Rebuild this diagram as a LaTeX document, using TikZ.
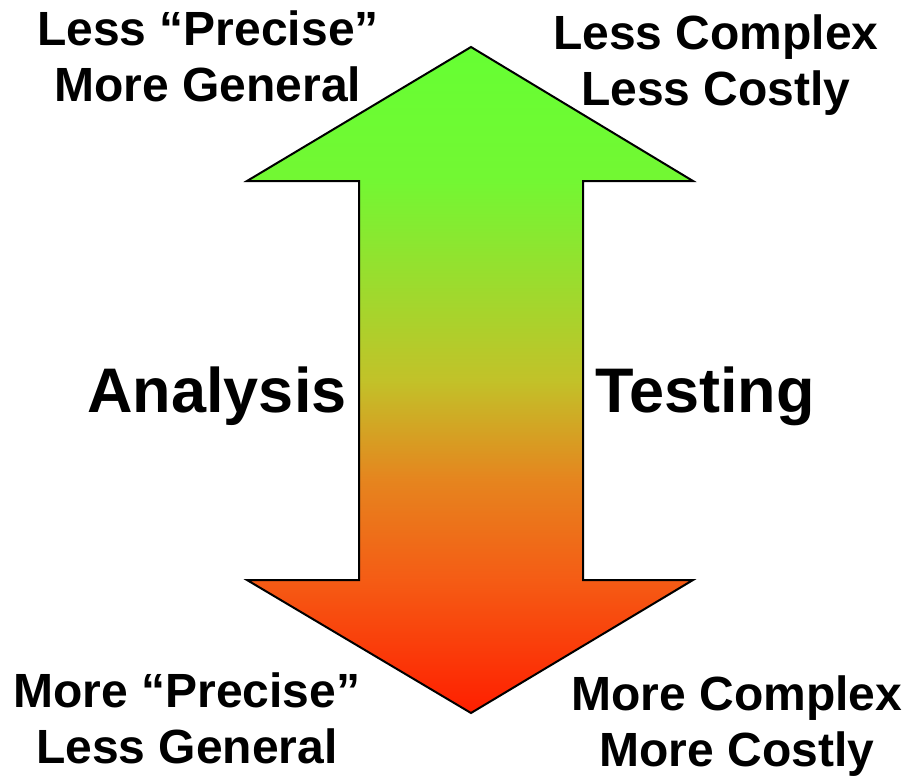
\documentclass[tikz,border=0pt]{standalone}
\usepackage{fontspec}
\setmainfont{Liberation Sans}
\usetikzlibrary{positioning}
\usetikzlibrary{calc}

% green to red, bottom (0bp) to top (100bp), path fills 25bp..75bp
\pgfdeclareverticalshading{greenred}{100bp}{%
    rgb(0bp)=(1,0.12,0); rgb(25bp)=(1,0.12,0);
    rgb(35bp)=(0.96,0.36,0.08);
    rgb(42.5bp)=(0.90,0.52,0.12);
    rgb(50bp)=(0.76,0.76,0.16);
    rgb(65bp)=(0.45,0.97,0.2);
    rgb(75bp)=(0.4,1,0.2); rgb(100bp)=(0.4,1,0.2)}

\begin{document}
\begin{tikzpicture}[x=1pt, y=-1pt,
    %Option for the texts
    inner sep=0pt, outer sep=0pt,%
    corner/.style={font=\bfseries\fontsize{48}{56}\selectfont, align=center},
    side/.style={font=\bfseries\fontsize{63}{70}\selectfont},
    bigarrow/.style={draw=black, line width=2pt, line join=miter, shading=greenred},
]
    \useasboundingbox (0,0) rectangle (908,777);

    % Arrow outline
    \coordinate (tip)  at (471, 47);
    \coordinate (foot) at (471,713);
    \shade[bigarrow] (tip) -- (693,181) -- (583,181) -- (583,580) -- (693,580)
        -- (foot) -- (247,580) -- (359,580) -- (359,181) -- (247,181) -- cycle;

    % Corners
    \node[corner] (lessprecise) at (208, 56) {Less “Precise”\\More General};
    \node[corner] (lesscomplex) at (716, 65) {Less Complex\\Less Costly};
    \node[corner] (moreprecise) at (187,718) {More “Precise”\\Less General};
    \node[corner] (morecomplex) at (737,726) {More Complex\\More Costly};

    % Sides
    \node[side, anchor=base] (analysis) at (217,412) {Analysis};
    \node[side, anchor=base] (testing)  at (705,412) {Testing};

\end{tikzpicture}
\end{document}
